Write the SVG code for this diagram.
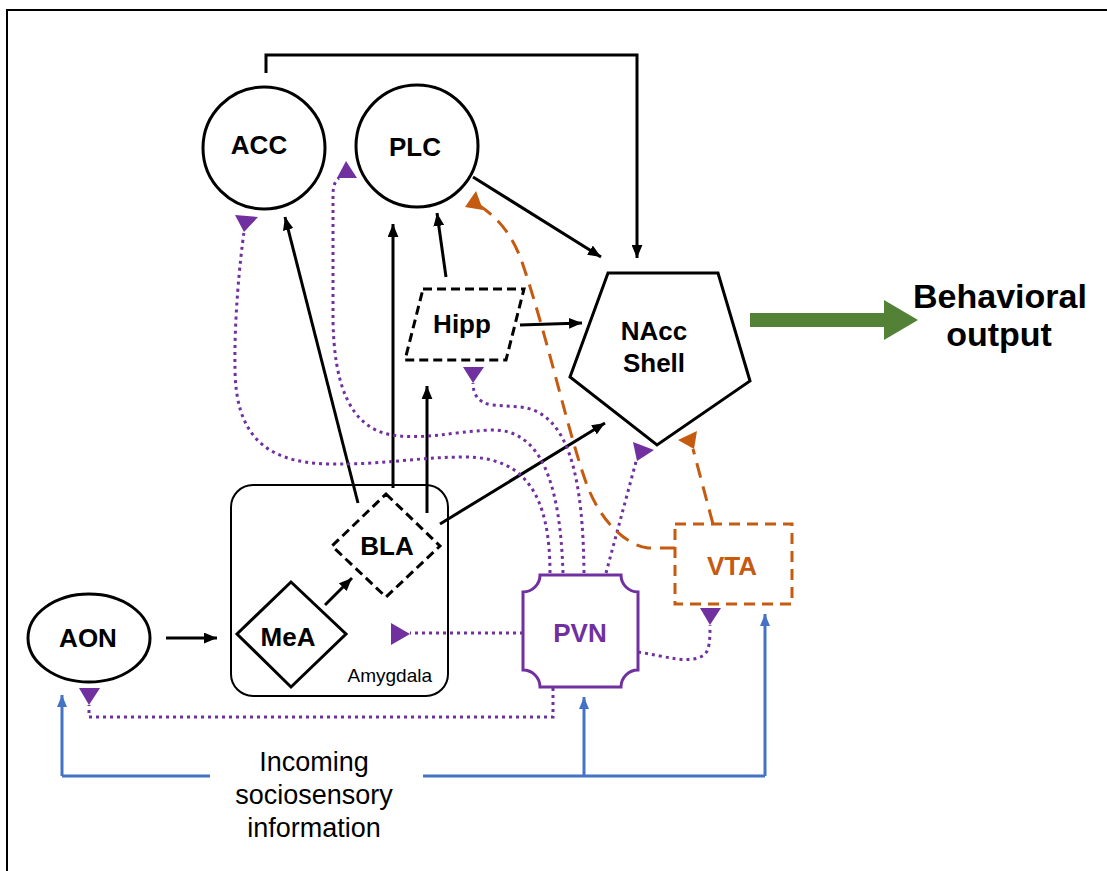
<svg xmlns="http://www.w3.org/2000/svg" width="1107" height="871" viewBox="0 0 1107 871">
<style>
.lbl{font-family:"Liberation Sans",Arial,sans-serif;font-weight:bold;font-size:26px;text-anchor:middle;fill:#000}
.node{fill:#fff;stroke:#000;stroke-width:3}
.dash{fill:#fff;stroke:#000;stroke-width:3;stroke-dasharray:9 5}
.blk{fill:none;stroke:#000;stroke-width:3;marker-end:url(#ah)}
.pur{fill:none;stroke:#7030A0;stroke-width:3;stroke-dasharray:3 4}
.purtri{fill:#7030A0;stroke:none}
.org{fill:none;stroke:#C55A11;stroke-width:3;stroke-dasharray:15 9}
.orgtri{fill:#C55A11;stroke:none}
.blu{fill:none;stroke:#4472C4;stroke-width:3}
.bluA{fill:none;stroke:#4472C4;stroke-width:3;marker-end:url(#ahb)}
</style>
<defs>
<marker id="ah" viewBox="0 0 12 10" refX="12" refY="5" markerWidth="13" markerHeight="11" markerUnits="userSpaceOnUse" orient="auto"><path d="M0,0 L12,5 L0,10 Z" fill="#000"/></marker>
<marker id="ahb" viewBox="0 0 12 10" refX="12" refY="5" markerWidth="12" markerHeight="10" markerUnits="userSpaceOnUse" orient="auto"><path d="M0,0 L12,5 L0,10 Z" fill="#4472C4"/></marker>
</defs>
<rect width="1107" height="871" fill="#fff"/>
<path d="M7,871 L7,10 L1107,10" fill="none" stroke="#000" stroke-width="2"/>

<g id="connectors">
<path class="blk" d="M266,73 L266,55 L637,55 L637,258"/>
<path class="blk" d="M473,177 L601,257"/>
<path class="blk" d="M520,325 L582,323"/>
<path class="blk" d="M446,277 L437,213"/>
<path class="blk" d="M358,503 L285,217"/>
<path class="blk" d="M393,488 L393,224"/>
<path class="blk" d="M427,513 L427,386"/>
<path class="blk" d="M440,524 L605,423"/>
<path class="blk" d="M325,605 L352,578"/>
<path class="blk" d="M166,638 L217,638"/>
<path d="M750,320 L888,320" stroke="#538135" stroke-width="14" fill="none"/>
<polygon points="884,300 918,320 884,340" fill="#538135"/>
<path class="pur" d="M550,573 C550,495 525,457 465,457 C420,457 380,465 330,464 C260,463 236,430 235,370 C234,320 240,260 244,232"/>
<polygon class="purtri" points="235,215 258,217 244,232"/>
<path class="pur" d="M563,573 C560,480 540,428 490,430 C450,432 425,440 392,435 C350,428 334,385 333,320 L333,195 C333,186 335,181 339,178"/>
<polygon class="purtri" points="337,178 357,178 346,161"/>
<path class="pur" d="M584,573 C583,480 570,412 520,407 L492,405 C479,403 473,395 473,383"/>
<polygon class="purtri" points="463,367 484,367 473,383"/>
<path class="pur" d="M606,573 L637,458"/>
<polygon class="purtri" points="633,442 654,450 637,461"/>
<path class="pur" d="M523,633 L410,633"/>
<polygon class="purtri" points="391,623 391,645 410,634"/>
<path class="pur" d="M638,652 C665,656 690,665 704,655 C710,650 710,638 710,625"/>
<polygon class="purtri" points="700,608 721,608 710,625"/>
<path class="pur" d="M553,688 L553,717 L89,717 L89,705"/>
<polygon class="purtri" points="79,688 100,688 89,705"/>
<path class="org" d="M675,548 L648,548 C625,545 600,520 587,485 C570,440 547,335 522,262 C512,234 498,218 480,206"/>
<polygon class="orgtri" points="465,207 476,191 483,210"/>
<path class="org" d="M713,524 L693,449"/>
<polygon class="orgtri" points="678,440 697,431 694,449"/>
<path class="blu" d="M210,776 L62,776"/>
<path class="bluA" d="M62,776 L62,695"/>
<path class="blu" d="M423,776 L765,776"/>
<path class="bluA" d="M584,776 L584,697"/>
<path class="bluA" d="M765,776 L765,614"/>
</g>

<g id="ACC"><circle class="node" cx="264" cy="148" r="61"/><text class="lbl" x="259" y="154">ACC</text></g>
<g id="PLC"><circle class="node" cx="417" cy="146" r="61"/><text class="lbl" x="415" y="156">PLC</text></g>
<g id="Hipp"><polygon class="dash" points="423,289 524,289 506,360 405,360"/><text class="lbl" x="462" y="333" font-size="25">Hipp</text></g>
<g id="NAcc"><polygon class="node" points="608,273 718,273 750,381 657,445 570,377"/><text class="lbl" x="654" y="340">NAcc</text><text class="lbl" x="654" y="372">Shell</text></g>
<g id="Amygdala"><rect x="231" y="485" width="217" height="211" rx="22" fill="none" stroke="#000" stroke-width="2"/><text x="432" y="682" font-family="&quot;Liberation Sans&quot;,Arial,sans-serif" font-size="19" text-anchor="end">Amygdala</text></g>
<g id="BLA"><polygon class="dash" points="386,494 440,546 386,597 332,546"/><text class="lbl" x="387" y="555">BLA</text></g>
<g id="MeA"><polygon class="node" points="291,582 346,634 291,687 237,634"/><text class="lbl" x="288" y="646">MeA</text></g>
<g id="AON"><ellipse class="node" cx="89" cy="638" rx="61" ry="44"/><text class="lbl" x="88" y="647">AON</text></g>
<g id="PVN"><path d="M540,575 L621,575 A17,17 0 0 0 638,592 L638,670 A17,17 0 0 0 621,687 L540,687 A17,17 0 0 0 523,670 L523,592 A17,17 0 0 0 540,575 Z" fill="#fff" stroke="#7030A0" stroke-width="3"/><text class="lbl" x="580" y="642" style="fill:#7030A0">PVN</text></g>
<g id="VTA"><rect x="675" y="524" width="117" height="80" fill="#fff" stroke="#C55A11" stroke-width="3" stroke-dasharray="11 7"/><text class="lbl" x="732" y="575" style="fill:#C55A11" font-size="25">VTA</text></g>
<g id="Behavioral"><text class="lbl" x="1000" y="308" style="font-size:34px">Behavioral</text><text class="lbl" x="999" y="346" style="font-size:34px">output</text></g>
<g id="Incoming"><text x="314" y="771" font-family="&quot;Liberation Sans&quot;,Arial,sans-serif" font-size="27" text-anchor="middle">Incoming</text><text x="314" y="804" font-family="&quot;Liberation Sans&quot;,Arial,sans-serif" font-size="27" text-anchor="middle">sociosensory</text><text x="314" y="837" font-family="&quot;Liberation Sans&quot;,Arial,sans-serif" font-size="27" text-anchor="middle">information</text></g>
</svg>
